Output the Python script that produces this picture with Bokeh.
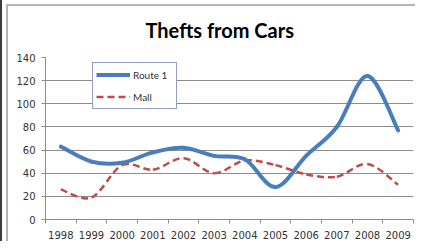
from bokeh.plotting import figure
from bokeh.models import (FixedTicker, Legend, LegendItem, Range1d)
from bokeh.embed import file_html
from bokeh.resources import INLINE
import numpy as np

years = ["1998", "1999", "2000", "2001", "2002", "2003", "2004", "2005", "2006", "2007", "2008", "2009"]
route1 = [63, 50, 49, 58, 62, 55, 52, 28, 55, 80, 124, 77]
mall = [26, 19, 47, 43, 53, 40, 51, 47, 39, 37, 48, 30]
y_ticks = [0, 20, 40, 60, 80, 100, 120, 140]

BLUE = "#4a7ebb"
RED = "#be4b48"
GRID = "#8c8c8c"
TXT = "#333333"

p = figure(width=415, height=241, output_backend="svg", toolbar_location=None,
           x_range=Range1d(0, len(years)), y_range=Range1d(0, 140),
           min_border_left=45, min_border_right=2, min_border_top=57, min_border_bottom=21,
           title="Thefts from Cars")
p.outline_line_color = None
p.background_fill_color = "white"
p.border_fill_alpha = 0
p.styles = {
    "background-color": "white",
    "background-image": ("linear-gradient(#b4b4b4, #b4b4b4), "
                         "linear-gradient(#b4b4b4, #b4b4b4), "
                         "linear-gradient(#3c3c3c, #3c3c3c)"),
    "background-size": "100% 2px, 2px 100%, 2px 100%",
    "background-position": "7px 4px, 6px 4px, 0px 0px",
    "background-repeat": "no-repeat",
}

p.title.text_font = "Lato"
p.title.text_font_size = "20px"
p.title.text_font_style = "bold"
p.title.text_color = "#000000"
p.title.align = "left"
p.title.offset = 100
p.title.standoff = 31

xc = np.arange(len(years)) + 0.5


def smooth(ys, **kw):
    ys = list(ys)
    n = len(ys)
    x0s, y0s, x1s, y1s, cx0, cy0, cx1, cy1 = [], [], [], [], [], [], [], []
    for i in range(n - 1):
        a = max(i - 1, 0)
        d = min(i + 2, n - 1)
        x0s.append(xc[i]); y0s.append(ys[i])
        x1s.append(xc[i + 1]); y1s.append(ys[i + 1])
        cx0.append(xc[i] + (xc[i + 1] - xc[a]) / 6.0)
        cy0.append(ys[i] + (ys[i + 1] - ys[a]) / 6.0)
        cx1.append(xc[i + 1] - (xc[d] - xc[i]) / 6.0)
        cy1.append(ys[i + 1] - (ys[d] - ys[i]) / 6.0)
    return p.bezier(x0=x0s, y0=y0s, x1=x1s, y1=y1s, cx0=cx0, cy0=cy0, cx1=cx1, cy1=cy1, **kw)


smooth(mall, line_color=RED, line_width=2.5, line_dash="7 4")
smooth(route1, line_color=BLUE, line_width=4, line_cap="round")

# legend proxies (no visible data)
nan = float("nan")
r_route = p.line(x=[nan], y=[nan], line_color=BLUE, line_width=4)
r_mall = p.line(x=[nan], y=[nan], line_color=RED, line_width=2.5, line_dash="7 4")
legend = Legend(items=[LegendItem(label="Route 1", renderers=[r_route]),
                       LegendItem(label="Mall", renderers=[r_mall])],
                location=(47, 110), orientation="vertical")
legend.border_line_color = "#24408e"
legend.border_line_width = 1
legend.background_fill_color = "white"
legend.background_fill_alpha = 1
legend.label_text_font = "Lato"
legend.label_text_font_size = "10px"
legend.label_text_color = TXT
legend.glyph_width = 34
legend.glyph_height = 17
legend.label_height = 17
legend.label_width = 40
legend.label_standoff = 3
legend.spacing = 5
legend.padding = 3
legend.margin = 0
p.add_layout(legend, "center")

# axes
p.yaxis.ticker = FixedTicker(ticks=y_ticks)
p.yaxis.axis_line_color = GRID
p.yaxis.major_tick_line_color = GRID
p.yaxis.major_tick_out = 4
p.yaxis.major_tick_in = 0
p.yaxis.minor_tick_line_color = None
p.yaxis.major_label_text_font = "DejaVu Sans"
p.yaxis.major_label_text_font_size = "10px"
p.yaxis.major_label_text_color = TXT
p.yaxis.major_label_standoff = 6

p.xaxis.ticker = FixedTicker(ticks=list(xc), minor_ticks=list(range(len(years) + 1)))
p.xaxis.major_label_overrides = {float(v): y for v, y in zip(xc, years)}
p.xaxis.axis_line_color = GRID
p.xaxis.major_tick_line_color = None
p.xaxis.major_tick_out = 0
p.xaxis.major_tick_in = 0
p.xaxis.minor_tick_line_color = GRID
p.xaxis.minor_tick_out = 4
p.xaxis.minor_tick_in = 0
p.xaxis.major_label_text_font = "DejaVu Sans"
p.xaxis.major_label_text_font_size = "10px"
p.xaxis.major_label_text_color = TXT
p.xaxis.major_label_standoff = 7

p.xgrid.grid_line_color = None
p.ygrid.ticker = FixedTicker(ticks=y_ticks)
p.ygrid.grid_line_color = GRID
p.ygrid.grid_line_width = 1

open("out.html", "w").write(file_html(p, INLINE))
